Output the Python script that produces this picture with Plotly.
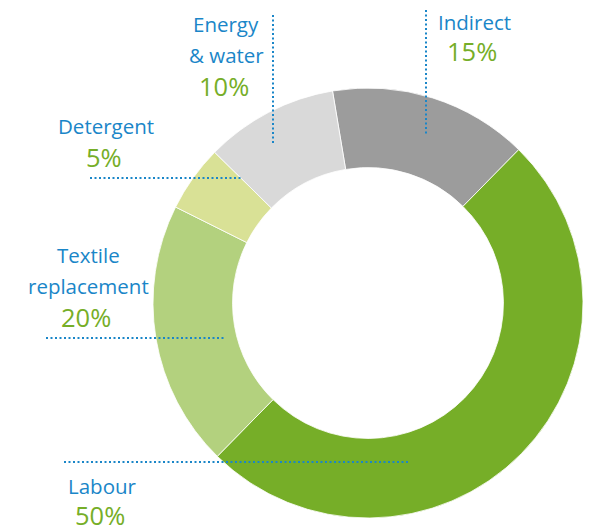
import plotly.graph_objects as go

# ---- data ----
categories = ["Indirect", "Labour", "Textile replacement", "Detergent", "Energy & water"]
shares = [15, 50, 20, 5, 10]
colors = ["#9c9c9c", "#76ae28", "#b3d17e", "#d9e196", "#d9d9d9"]
label_lines = [["Indirect"], ["Labour"], ["Textile", "replacement"], ["Detergent"], ["Energy", "& water"]]

# page body adds an 8px margin, so the figure is drawn 8px smaller and
# positions below are given in window pixels
OFF = 8
W, H = 600 - OFF, 531 - OFF
BLUE = "#1a86c8"
GREEN = "#76ae28"

# (x-center, y-center of first line, gap to percentage line)
label_pos = {
    "Indirect": (474, 22, 29),
    "Labour": (102, 486, 29),
    "Textile replacement": (88, 255, 31),
    "Detergent": (106, 126, 31),
    "Energy & water": (226, 24, 31),
}
line_gap = 31
leaders = {
    "Indirect": (426, 10, 426, 135),
    "Labour": (64, 462, 408, 462),
    "Textile replacement": (46, 338, 224, 338),
    "Detergent": (90, 178, 242, 178),
    "Energy & water": (273, 15, 273, 143),
}

def px(x):
    return (x - OFF) / W

def py(y):
    return 1 - (y - OFF) / H

cx, cy, R = 368, 303, 215
fig = go.Figure(go.Pie(
    labels=categories,
    values=shares,
    sort=False,
    direction="clockwise",
    rotation=-9.5,
    hole=0.63,
    marker=dict(colors=colors, line=dict(color="rgba(255,255,255,0.8)", width=1)),
    textinfo="none",
    hoverinfo="label+percent",
    showlegend=False,
    domain=dict(x=[px(cx - R), px(cx + R)], y=[py(cy + R), py(cy - R)]),
))

annotations = []
shapes = []
for cat, val, lines in zip(categories, shares, label_lines):
    x0, y0, gap = label_pos[cat]
    for i, ln in enumerate(lines):
        annotations.append(dict(
            x=px(x0), y=py(y0 + i * line_gap), xref="paper", yref="paper",
            text=ln, showarrow=False, xanchor="center", yanchor="middle", borderpad=0,
            font=dict(family="Open Sans", size=20.5, color=BLUE),
        ))
    annotations.append(dict(
        x=px(x0 - 2), y=py(y0 + (len(lines) - 1) * line_gap + gap), xref="paper", yref="paper",
        text=f"{val}%", showarrow=False, xanchor="center", yanchor="middle", borderpad=0,
        font=dict(family="Open Sans", size=25.5, color=GREEN),
    ))
    a, b, c, d = leaders[cat]
    shapes.append(dict(
        type="line", xref="paper", yref="paper",
        x0=px(a), y0=py(b), x1=px(c), y1=py(d),
        line=dict(color=BLUE, width=2, dash="2px,2.5px"),
    ))

fig.update_layout(
    width=W, height=H,
    margin=dict(l=0, r=0, t=0, b=0),
    paper_bgcolor="white", plot_bgcolor="white",
    annotations=annotations,
    shapes=shapes,
)

fig.write_html("out.html")
